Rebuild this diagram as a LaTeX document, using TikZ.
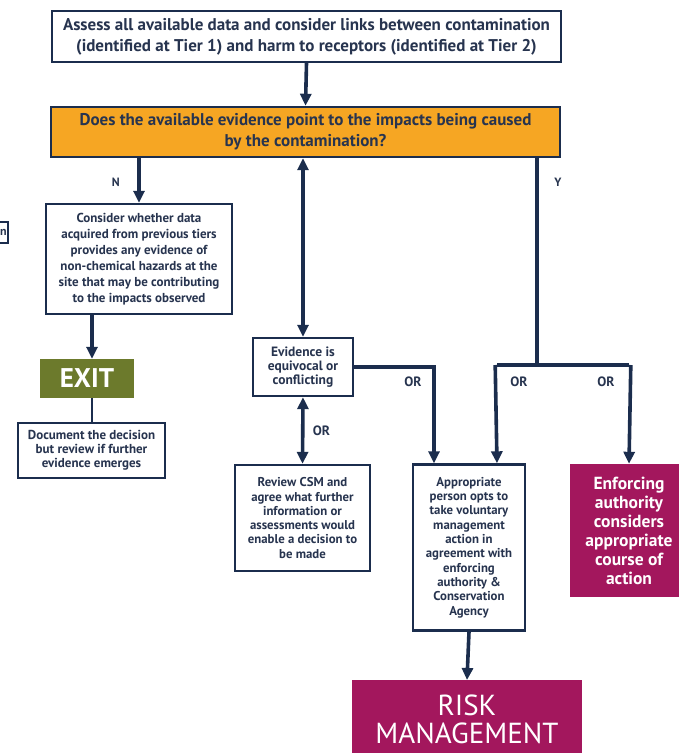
\documentclass[tikz,border=0pt]{standalone}
\usepackage{fontspec}
\setmainfont{PT Sans}
\usetikzlibrary{arrows.meta}
\definecolor{navy}{HTML}{1B2D4D}
\definecolor{inktext}{HTML}{27344F}
\definecolor{amber}{HTML}{F6A623}
\definecolor{olive}{HTML}{6C7A2C}
\definecolor{plum}{HTML}{A3175D}
\tikzset{
  box/.style={draw=navy, line width=2.4pt, fill=white, text=inktext,
    align=center, inner sep=1pt, font=\bfseries},
  flow/.style={draw=navy, line width=3.6pt,
    -{Triangle[length=12pt,width=11pt]}},
  both/.style={draw=navy, line width=3.6pt,
    {Triangle[length=12pt,width=11pt]}-{Triangle[length=12pt,width=11pt]}},
  link/.style={draw=navy, line width=3.6pt},
  tag/.style={text=inktext, font=\bfseries\fontsize{13.5}{15}\selectfont},
  small/.style={font=\bfseries\fontsize{12.8}{14.3}\selectfont},
}
\begin{document}
\begin{tikzpicture}[x=1pt,y=-1pt]
\useasboundingbox (0,0) rectangle (679,753);
\clip (0,0) rectangle (679,753);

% question boxes along the top
\node[box, minimum width=509pt, minimum height=51pt,
  font=\bfseries\fontsize{17}{21}\selectfont] (assess) at (306.5,36.5)
  {Assess all available data and consider links between contamination\\
   (identified at Tier 1) and harm to receptors (identified at Tier 2)};
\node[box, fill=amber, minimum width=509pt, minimum height=50pt,
  font=\bfseries\fontsize{17}{21}\selectfont] (question) at (305.5,132)
  {Does the available evidence point to the impacts being caused\\
   by the contamination?};

% cut-off box at the left edge
\node[box, line width=1.6pt, text width=40pt, minimum height=21pt, anchor=east,
  inner xsep=1.5pt, align=right,
  font=\bfseries\fontsize{12}{13}\selectfont] (edge) at (9,232.5) {n};

% N branch
\node[box, minimum width=186pt, minimum height=110pt,
  font=\bfseries\fontsize{13}{16}\selectfont] (consider) at (139,259)
  {Consider whether data\\acquired from previous tiers\\provides any evidence of\\
   non-chemical hazards at the\\site that may be contributing\\to the impacts observed};
\node[fill=olive, text=white, minimum width=94pt, minimum height=39pt, inner sep=0pt,
  font=\bfseries\fontsize{27}{28}\selectfont] (exit) at (87,378.5) {EXIT};
\node[box, line width=1.6pt, minimum width=147pt, minimum height=55pt,
  font=\bfseries\fontsize{13}{14}\selectfont] (document) at (91.5,450.5)
  {Document the decision\\but review if further\\evidence emerges};

% middle branch
\node[box, minimum width=100pt, minimum height=58pt,
  font=\bfseries\fontsize{13.5}{14}\selectfont] (equivocal) at (303,367)
  {Evidence is\\equivocal or\\conflicting};
\node[box, small, minimum width=135pt, minimum height=106pt] (review) at (302.5,518)
  {Review CSM and\\agree what further\\information or\\assessments would\\
   enable a decision to\\be made};
\node[box, small, minimum width=112pt, minimum height=166pt] (voluntary) at (469,547.5)
  {Appropriate\\person opts to\\take voluntary\\management\\action in\\
   agreement with\\enforcing\\authority \&\\Conservation\\Agency};

% Y branch outcomes
\node[fill=plum, text=white, minimum width=118pt, minimum height=133pt, align=center,
  inner sep=0pt, font=\bfseries\fontsize{17.5}{19}\selectfont] (enforce) at (629,530.5)
  {Enforcing\\authority\\considers\\appropriate\\course of\\action};
\node[fill=plum, text=white, minimum width=230pt, minimum height=78pt, align=center,
  inner sep=0pt, font=\fontsize{29}{28}\selectfont, anchor=north] (risk) at (467,680)
  {RISK\\MANAGEMENT};

% connectors
\draw[flow] (assess.south) -- (question.north);
\draw[flow] (question.south -| consider.north) -- (consider.north)
  node[tag, font=\bfseries\fontsize{12}{13}\selectfont, pos=0.55, left=14pt] {N};
\draw[flow] (consider.south -| 92,0) -- (exit.north -| 92,0);
\draw[link, line width=1.6pt] (exit.south -| 92,0) -- (document.north -| 92,0);

\draw[both] (question.south -| equivocal.north) -- (equivocal.north);
\draw[both] (equivocal.south) -- (review.north)
  node[tag, midway, right=5pt] {OR};
\coordinate (eqturn) at (434,367);
\draw[flow] (equivocal.east) -- (eqturn) -- (voluntary.north -| eqturn);
\node[tag] (orA) at (413,382) {OR};

\coordinate (yes) at (537,365);
\coordinate (yesL) at (497,365);
\coordinate (yesR) at (629,365);
\draw[link] (question.south -| yes) -- (yes);
\node[tag, font=\bfseries\fontsize{12}{13}\selectfont] (ylabel) at (558,182) {Y};
\draw[link] (yesL) -- (yesR);
\draw[flow] ([xshift=-1.8pt]yesL) -- (voluntary.north -| yesL);
\draw[flow] ([xshift=1.8pt]yesR) -- (enforce.north -| yesR);
\node[tag] (orB) at (519,382) {OR};
\node[tag] (orC) at (606,382) {OR};

\draw[flow] (voluntary.south) -- (risk.north);
\end{tikzpicture}
\end{document}
